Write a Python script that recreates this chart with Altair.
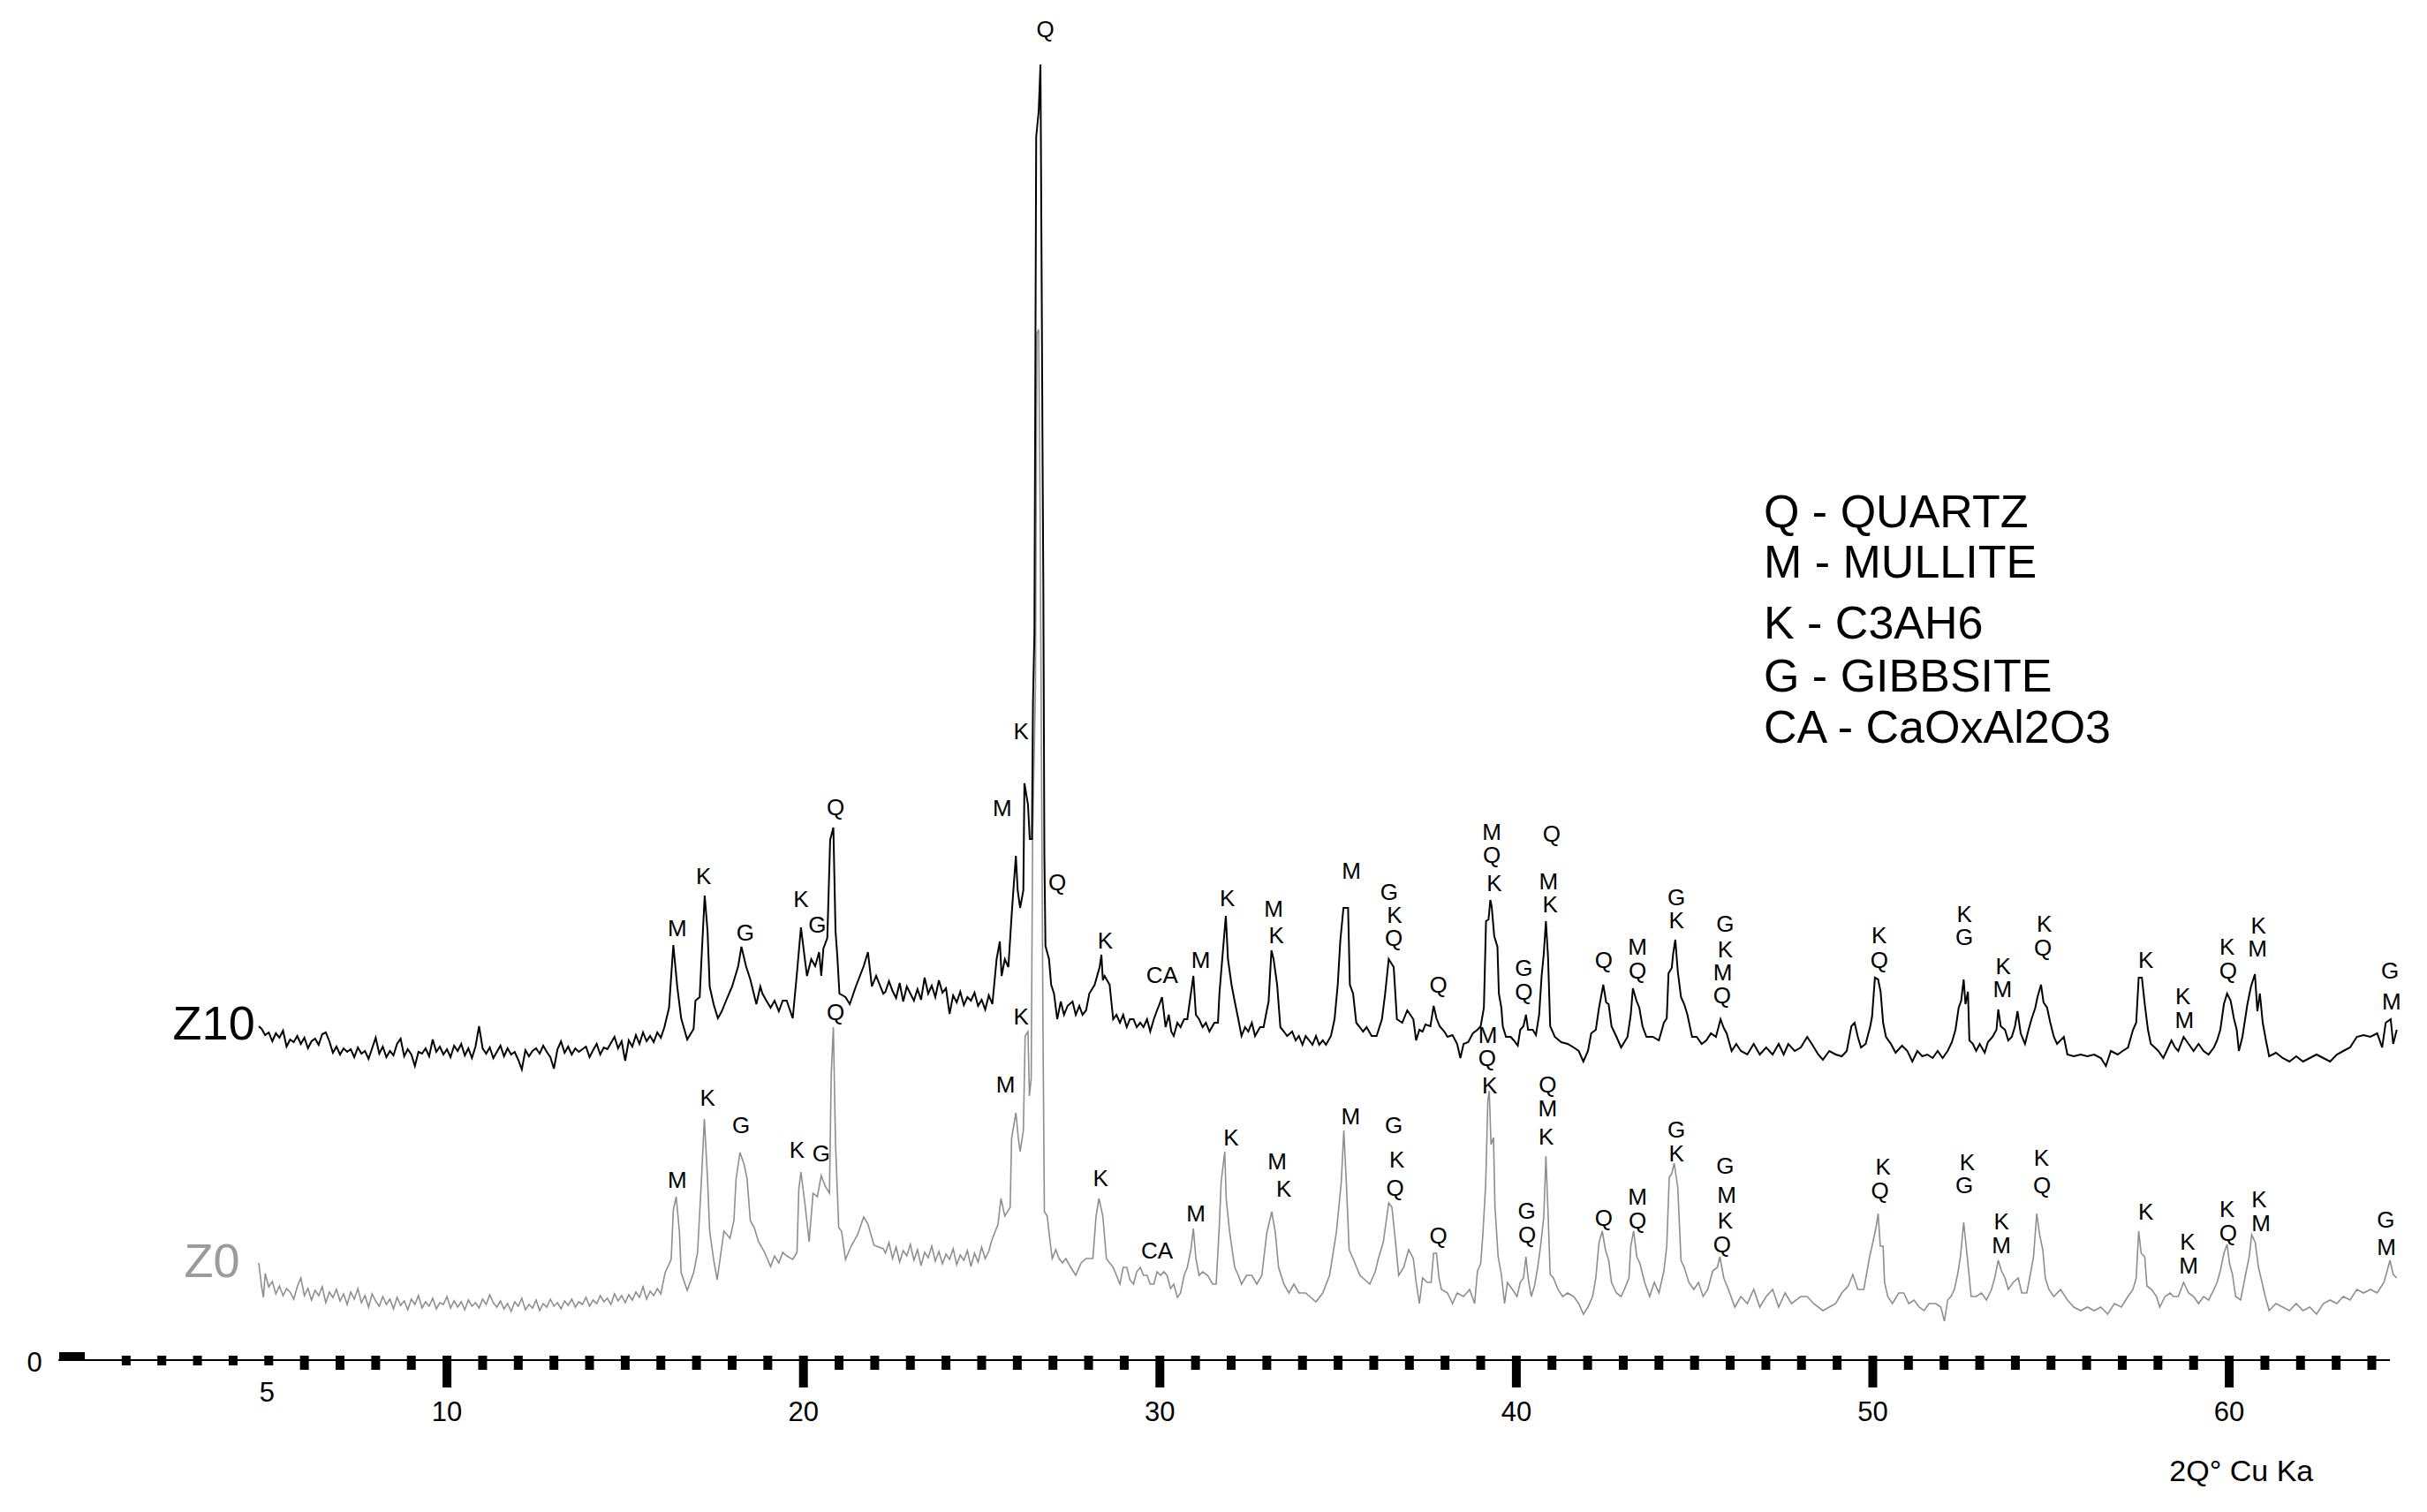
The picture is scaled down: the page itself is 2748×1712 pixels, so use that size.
import altair as alt
import pandas as pd

# ---------------- data (2-theta in degrees, intensity in plot units) ----------------
z10_points = [
    (4.72, 375), (4.8, 372), (4.9, 365), (5.0, 368), (5.1, 358), (5.2, 367), (5.3, 362), (5.4, 370),
    (5.5, 352), (5.6, 360), (5.7, 357), (5.8, 364), (5.9, 355), (6.0, 362), (6.1, 350), (6.2, 358),
    (6.3, 361), (6.4, 354), (6.5, 366), (6.6, 368), (6.7, 358), (6.8, 345), (6.9, 352), (7.0, 343),
    (7.1, 350), (7.2, 346), (7.3, 349), (7.4, 340), (7.5, 351), (7.6, 344), (7.7, 347), (7.8, 338),
    (7.9, 350), (8.0, 362), (8.1, 344), (8.2, 352), (8.3, 340), (8.4, 347), (8.5, 342), (8.6, 355),
    (8.7, 361), (8.8, 341), (8.9, 349), (9.0, 343), (9.1, 330), (9.2, 346), (9.3, 344), (9.4, 350),
    (9.5, 341), (9.6, 360), (9.7, 346), (9.8, 352), (9.9, 343), (10.0, 349), (10.1, 340), (10.2, 353),
    (10.3, 347), (10.4, 355), (10.5, 342), (10.6, 350), (10.7, 339), (10.8, 352), (10.9, 375), (11.0, 350),
    (11.1, 344), (11.2, 351), (11.3, 339), (11.4, 346), (11.5, 353), (11.6, 341), (11.7, 350), (11.8, 343),
    (11.9, 346), (12.0, 337), (12.1, 326), (12.2, 348), (12.3, 341), (12.4, 347), (12.5, 350), (12.6, 344),
    (12.7, 353), (12.8, 346), (12.9, 340), (13.0, 327), (13.1, 349), (13.2, 358), (13.3, 345), (13.4, 352),
    (13.5, 343), (13.6, 350), (13.7, 346), (13.8, 349), (13.9, 352), (14.0, 340), (14.1, 348), (14.2, 355),
    (14.3, 343), (14.4, 351), (14.5, 349), (14.6, 356), (14.7, 363), (14.8, 350), (14.9, 358), (15.0, 336),
    (15.1, 359), (15.2, 352), (15.3, 365), (15.4, 355), (15.5, 368), (15.6, 358), (15.7, 364), (15.8, 357),
    (15.9, 368), (16.0, 362), (16.1, 374),
    (16.23, 396), (16.35, 467), (16.46, 420), (16.57, 384), (16.74, 360), (16.92, 372), (16.97, 404),
    (17.09, 408), (17.14, 451), (17.23, 523), (17.31, 483), (17.37, 420), (17.48, 400), (17.60, 384),
    (17.71, 392), (17.83, 404), (18.00, 420), (18.17, 443), (18.26, 465), (18.39, 443), (18.51, 428),
    (18.68, 400), (18.79, 420), (18.85, 412), (18.96, 404), (19.08, 396), (19.19, 404), (19.31, 392),
    (19.42, 404), (19.53, 404), (19.70, 384), (19.82, 436), (19.93, 487), (20.04, 451), (20.10, 432),
    (20.22, 451), (20.33, 443), (20.44, 459), (20.50, 432), (20.56, 463), (20.67, 475), (20.75, 586),
    (20.84, 600), (20.90, 483), (20.95, 455), (21.01, 412), (21.18, 408), (21.30, 400), (21.47, 420),
    (21.69, 443), (21.81, 459), (21.92, 420), (22.04, 432), (22.24, 412),
    (22.3, 414), (22.4, 426), (22.5, 415), (22.6, 407), (22.7, 424), (22.8, 403), (22.9, 420), (23.0, 412),
    (23.1, 404), (23.2, 417), (23.3, 405), (23.4, 430), (23.5, 412), (23.6, 421), (23.7, 408), (23.8, 427),
    (23.9, 413), (24.0, 418), (24.1, 389), (24.2, 410), (24.3, 402), (24.4, 414), (24.5, 399), (24.6, 408),
    (24.7, 404), (24.8, 413), (24.9, 398), (25.0, 405), (25.1, 394), (25.2, 410), (25.3, 400),
    (25.42, 451), (25.51, 471), (25.56, 432), (25.65, 451), (25.75, 442), (25.84, 500), (25.89, 529),
    (25.96, 568), (26.01, 529), (26.08, 509), (26.17, 529), (26.20, 650), (26.30, 626), (26.35, 587),
    (26.41, 587), (26.44, 742), (26.48, 820), (26.53, 1382), (26.60, 1411), (26.65, 1464), (26.68, 1246),
    (26.71, 1014), (26.73, 878), (26.76, 568), (26.79, 466), (26.89, 451), (26.95, 422), (27.03, 412),
    (27.12, 383), (27.22, 403), (27.31, 388), (27.41, 398), (27.55, 403), (27.64, 388), (27.74, 398),
    (27.83, 388), (27.93, 393), (28.02, 412), (28.17, 422), (28.31, 442), (28.36, 456), (28.40, 427),
    (28.45, 432), (28.59, 422), (28.69, 383), (28.78, 388), (28.88, 379), (28.97, 388), (29.07, 374),
    (29.16, 383), (29.26, 383), (29.35, 374), (29.45, 379), (29.54, 374), (29.64, 383), (29.73, 369),
    (29.83, 383), (29.92, 393), (29.97, 398), (30.06, 408), (30.16, 374), (30.25, 388), (30.32, 369),
    (30.39, 364), (30.49, 379), (30.58, 374), (30.68, 383), (30.77, 383), (30.87, 412), (30.94, 432),
    (31.01, 388), (31.10, 383), (31.20, 374), (31.29, 379), (31.39, 369), (31.53, 379), (31.63, 379),
    (31.67, 412), (31.77, 461), (31.85, 500), (31.91, 451), (32.01, 422), (32.10, 403), (32.20, 383),
    (32.29, 364), (32.39, 374), (32.48, 369), (32.58, 379), (32.67, 364), (32.81, 374), (32.91, 374),
    (33.00, 393), (33.05, 403), (33.13, 461), (33.19, 451), (33.29, 422), (33.38, 374), (33.48, 369),
    (33.57, 364), (33.71, 369), (33.81, 359), (33.90, 364), (34.00, 354), (34.09, 364), (34.19, 359),
    (34.28, 354), (34.38, 364), (34.47, 354), (34.57, 359), (34.66, 354), (34.80, 364), (34.90, 383),
    (34.99, 422), (35.06, 471), (35.15, 509), (35.28, 509), (35.33, 422), (35.42, 412), (35.51, 379),
    (35.61, 374), (35.70, 369), (35.80, 374), (35.94, 364), (36.08, 364), (36.23, 383), (36.32, 412),
    (36.42, 451), (36.56, 442), (36.65, 383), (36.80, 379), (36.94, 393), (37.11, 383),
    (37.19, 359), (37.28, 371), (37.37, 369), (37.45, 377), (37.59, 375), (37.68, 398), (37.76, 384),
    (37.85, 375), (37.98, 369), (38.07, 363), (38.21, 365), (38.34, 355), (38.43, 339), (38.52, 355),
    (38.65, 357), (38.78, 367), (38.91, 371), (39.00, 375), (39.09, 396), (39.15, 494), (39.22, 496),
    (39.27, 518), (39.31, 510), (39.38, 477), (39.47, 465), (39.51, 412), (39.58, 396), (39.62, 375),
    (39.71, 363), (39.84, 363), (39.93, 359), (40.04, 353), (40.11, 371), (40.20, 375), (40.27, 388),
    (40.33, 371), (40.46, 371), (40.55, 365), (40.64, 388), (40.71, 432), (40.77, 457), (40.83, 494),
    (40.89, 453), (40.95, 375), (41.08, 363), (41.26, 357), (41.44, 355), (41.61, 351), (41.75, 347),
    (41.88, 335), (42.01, 347), (42.10, 367), (42.23, 371), (42.32, 396), (42.44, 422), (42.52, 402),
    (42.59, 400), (42.67, 375), (42.81, 363), (42.94, 351), (43.12, 363), (43.21, 388), (43.27, 418),
    (43.37, 404), (43.45, 396), (43.54, 375), (43.65, 363), (43.83, 363), (44.00, 359), (44.14, 379),
    (44.22, 384), (44.27, 435), (44.36, 441), (44.40, 457), (44.46, 473), (44.53, 437), (44.62, 408),
    (44.71, 400), (44.80, 388), (44.93, 363), (45.06, 363), (45.20, 355), (45.33, 359), (45.46, 367),
    (45.60, 363), (45.73, 383), (45.82, 373), (45.90, 367), (46.04, 347), (46.17, 355), (46.30, 347),
    (46.48, 343), (46.66, 355), (46.83, 343), (47.01, 351), (47.19, 343), (47.36, 355), (47.50, 343),
    (47.63, 355), (47.81, 347), (47.98, 351), (48.16, 363), (48.29, 355), (48.47, 343), (48.60, 337),
    (48.78, 347), (48.96, 343), (49.13, 341), (49.27, 347), (49.40, 375), (49.49, 379), (49.58, 363),
    (49.67, 351), (49.80, 355), (49.93, 375), (49.98, 386), (50.06, 430), (50.15, 428), (50.22, 414),
    (50.29, 379), (50.37, 363), (50.51, 355), (50.64, 345),
    (50.82, 353), (50.97, 347), (51.11, 335), (51.25, 347), (51.39, 341), (51.53, 343), (51.68, 339),
    (51.82, 347), (51.96, 339), (52.10, 347), (52.22, 357), (52.32, 371), (52.41, 396), (52.48, 404),
    (52.55, 428), (52.60, 400), (52.67, 414), (52.71, 359), (52.81, 355), (52.90, 347), (53.00, 355),
    (53.14, 345), (53.23, 357), (53.36, 363), (53.47, 371), (53.52, 394), (53.59, 375), (53.71, 371),
    (53.80, 359), (53.90, 363), (53.99, 375), (54.06, 392), (54.15, 367), (54.27, 355), (54.37, 371),
    (54.46, 384), (54.56, 396), (54.62, 408), (54.72, 422), (54.79, 402), (54.89, 396), (54.98, 379),
    (55.08, 363), (55.17, 355), (55.36, 363), (55.46, 343), (55.64, 341), (55.83, 343), (56.02, 341),
    (56.21, 343), (56.40, 339), (56.54, 330), (56.68, 347), (56.87, 343), (57.01, 347), (57.16, 351),
    (57.30, 371), (57.39, 379), (57.46, 430), (57.55, 430), (57.63, 400), (57.72, 371), (57.80, 355),
    (57.91, 351), (58.01, 347), (58.15, 339), (58.29, 351), (58.38, 359), (58.48, 351), (58.57, 347),
    (58.72, 363), (58.86, 355), (59.00, 347), (59.14, 355), (59.28, 347), (59.42, 343), (59.57, 351),
    (59.66, 359), (59.75, 371), (59.85, 400), (59.94, 412), (60.04, 404), (60.13, 384), (60.21, 371),
    (60.27, 347), (60.37, 363), (60.51, 400), (60.61, 420), (60.72, 434), (60.79, 392), (60.86, 412),
    (60.94, 379), (61.03, 359), (61.12, 341), (61.31, 345), (61.50, 339), (61.69, 335), (61.88, 341),
    (62.07, 335), (62.26, 339), (62.45, 343), (62.64, 339), (62.83, 335), (63.02, 343), (63.20, 347),
    (63.39, 351), (63.58, 363), (63.77, 365), (63.96, 363), (64.15, 367), (64.29, 351), (64.39, 379),
    (64.53, 383), (64.60, 355), (64.70, 371),
]

z0_points = [
    (4.72, 107), (4.8, 80), (4.85, 68), (4.9, 95), (5.0, 80), (5.1, 86), (5.2, 72), (5.3, 81), (5.4, 70),
    (5.5, 78), (5.6, 74), (5.7, 66), (5.8, 80), (5.9, 90), (6.0, 70), (6.1, 78), (6.2, 65), (6.3, 76),
    (6.4, 70), (6.5, 80), (6.6, 62), (6.7, 74), (6.8, 68), (6.9, 77), (7.0, 64), (7.1, 72), (7.2, 60),
    (7.3, 74), (7.4, 66), (7.5, 78), (7.6, 62), (7.7, 70), (7.8, 57), (7.9, 72), (8.0, 64), (8.1, 58),
    (8.2, 69), (8.3, 60), (8.4, 66), (8.5, 55), (8.6, 68), (8.7, 59), (8.8, 64), (8.9, 54), (9.0, 66),
    (9.1, 60), (9.2, 70), (9.3, 56), (9.4, 63), (9.5, 58), (9.6, 67), (9.7, 55), (9.8, 62), (9.9, 60),
    (10.0, 69), (10.1, 56), (10.2, 64), (10.3, 57), (10.4, 63), (10.5, 54), (10.6, 65), (10.7, 58),
    (10.8, 62), (10.9, 56), (11.0, 66), (11.1, 60), (11.2, 71), (11.3, 62), (11.4, 57), (11.5, 64),
    (11.6, 55), (11.7, 61), (11.8, 52), (11.9, 63), (12.0, 58), (12.1, 67), (12.2, 54), (12.3, 60),
    (12.4, 56), (12.5, 65), (12.6, 53), (12.7, 61), (12.8, 57), (12.9, 66), (13.0, 58), (13.1, 62),
    (13.2, 55), (13.3, 64), (13.4, 59), (13.5, 66), (13.6, 57), (13.7, 63), (13.8, 60), (13.9, 68),
    (14.0, 58), (14.1, 65), (14.2, 61), (14.3, 70), (14.4, 63), (14.5, 67), (14.6, 60), (14.7, 72),
    (14.8, 64), (14.9, 70), (15.0, 62), (15.1, 71), (15.2, 65), (15.3, 74), (15.4, 68), (15.5, 80),
    (15.6, 66), (15.7, 75), (15.8, 70), (15.9, 78), (16.0, 72),
    (16.12, 96), (16.29, 111), (16.35, 167), (16.43, 182), (16.52, 143), (16.57, 96), (16.74, 76),
    (16.92, 96), (17.03, 119), (17.14, 202), (17.22, 270), (17.31, 202), (17.37, 143), (17.48, 111),
    (17.58, 88), (17.66, 111), (17.77, 143), (17.94, 135), (18.05, 155), (18.11, 202), (18.22, 232),
    (18.34, 218), (18.42, 202), (18.51, 155), (18.62, 147), (18.74, 131), (18.91, 119), (19.08, 103),
    (19.19, 115), (19.31, 107), (19.42, 119), (19.53, 115), (19.70, 111), (19.82, 119), (19.87, 190),
    (19.93, 210), (20.04, 175), (20.16, 131), (20.27, 186), (20.39, 182), (20.50, 206), (20.61, 194),
    (20.73, 186), (20.78, 321), (20.84, 374), (20.90, 242), (20.99, 147), (21.07, 143), (21.18, 111),
    (21.35, 127), (21.52, 139), (21.69, 159), (21.81, 151), (21.98, 127), (22.24, 123),
    (22.3, 118), (22.4, 130), (22.5, 112), (22.6, 125), (22.7, 108), (22.8, 121), (22.9, 115), (23.0, 128),
    (23.1, 110), (23.2, 122), (23.3, 104), (23.4, 119), (23.5, 113), (23.6, 126), (23.7, 109), (23.8, 120),
    (23.9, 106), (24.0, 117), (24.1, 111), (24.2, 123), (24.3, 105), (24.4, 116), (24.5, 110), (24.6, 121),
    (24.7, 103), (24.8, 118), (24.9, 108), (25.0, 125), (25.1, 112), (25.2, 120),
    (25.27, 131), (25.46, 151), (25.54, 180), (25.65, 160), (25.80, 170), (25.84, 248), (25.96, 277),
    (26.03, 248), (26.08, 233), (26.17, 257), (26.22, 364), (26.30, 369), (26.34, 296), (26.39, 316),
    (26.43, 587), (26.51, 761), (26.55, 1159), (26.60, 1164), (26.64, 955), (26.68, 665), (26.72, 374),
    (26.76, 165), (26.84, 160), (26.89, 141), (26.98, 112), (27.08, 122), (27.17, 112), (27.27, 107),
    (27.36, 112), (27.50, 102), (27.64, 93), (27.79, 107), (27.93, 112), (28.12, 112), (28.21, 160),
    (28.29, 180), (28.40, 160), (28.50, 112), (28.59, 107), (28.69, 102), (28.78, 93), (28.88, 83),
    (28.97, 102), (29.07, 102), (29.16, 88), (29.26, 83), (29.35, 97), (29.45, 102), (29.54, 93),
    (29.64, 93), (29.73, 83), (29.83, 83), (29.92, 97), (30.02, 93), (30.11, 97), (30.20, 93),
    (30.30, 78), (30.39, 83), (30.49, 68), (30.58, 73), (30.68, 93), (30.77, 102), (30.87, 122),
    (30.94, 146), (31.01, 112), (31.10, 93), (31.20, 97), (31.34, 93), (31.48, 83), (31.58, 83),
    (31.67, 151), (31.72, 199), (31.82, 233), (31.86, 180), (31.96, 141), (32.10, 102), (32.20, 93),
    (32.29, 83), (32.43, 93), (32.58, 93), (32.72, 83), (32.86, 93), (33.00, 141), (33.14, 165),
    (33.24, 141), (33.33, 102), (33.48, 83), (33.62, 73), (33.76, 83), (33.90, 73), (34.09, 73),
    (34.23, 68), (34.38, 63), (34.57, 73), (34.76, 93), (34.95, 141), (35.09, 199), (35.16, 257),
    (35.23, 199), (35.31, 122), (35.42, 112), (35.61, 93), (35.75, 88), (35.89, 83), (36.04, 97),
    (36.13, 112), (36.27, 131), (36.42, 175), (36.51, 170), (36.61, 131), (36.70, 93), (36.84, 102),
    (36.98, 122), (37.11, 112),
    (37.19, 85), (37.28, 61), (37.37, 90), (37.50, 85), (37.61, 85), (37.68, 118), (37.76, 118),
    (37.83, 90), (37.90, 77), (38.07, 73), (38.21, 61), (38.34, 73), (38.52, 69), (38.69, 77),
    (38.83, 61), (38.91, 98), (39.00, 106), (39.06, 139), (39.14, 196), (39.20, 290), (39.24, 302),
    (39.29, 241), (39.36, 249), (39.40, 171), (39.49, 114), (39.58, 94), (39.67, 61), (39.75, 85),
    (39.89, 77), (40.02, 69), (40.11, 85), (40.20, 90), (40.27, 114), (40.33, 90), (40.42, 69),
    (40.51, 81), (40.60, 102), (40.68, 126), (40.77, 159), (40.83, 228), (40.89, 163), (40.95, 94),
    (41.04, 90), (41.17, 77), (41.30, 69), (41.44, 73), (41.61, 69), (41.75, 61), (41.88, 49),
    (42.01, 57), (42.14, 69), (42.23, 90), (42.32, 130), (42.41, 143), (42.50, 122), (42.59, 110),
    (42.67, 85), (42.81, 73), (42.94, 69), (43.03, 77), (43.16, 90), (43.21, 126), (43.29, 143),
    (43.38, 114), (43.47, 106), (43.60, 85), (43.74, 69), (43.87, 85), (44.00, 73), (44.14, 98),
    (44.22, 126), (44.29, 204), (44.36, 208), (44.43, 220), (44.53, 192), (44.62, 110), (44.71, 102),
    (44.84, 85), (44.98, 77), (45.11, 85), (45.24, 69), (45.37, 77), (45.51, 98), (45.64, 102),
    (45.71, 114), (45.82, 90), (45.95, 77), (46.13, 57), (46.30, 69), (46.48, 61), (46.66, 77),
    (46.83, 57), (47.01, 69), (47.19, 77), (47.36, 57), (47.54, 73), (47.72, 61), (47.98, 69),
    (48.16, 69), (48.34, 61), (48.60, 53), (48.78, 57), (48.96, 61), (49.13, 73), (49.31, 81),
    (49.44, 94), (49.58, 77), (49.75, 77), (49.91, 114), (50.00, 130), (50.09, 147), (50.15, 163),
    (50.21, 126), (50.29, 126), (50.33, 85), (50.42, 69), (50.55, 61), (50.73, 73),
    (50.87, 73), (51.01, 61), (51.16, 65), (51.30, 57), (51.44, 53), (51.58, 61), (51.77, 61),
    (51.91, 57), (52.01, 41), (52.10, 65), (52.19, 69), (52.29, 77), (52.38, 94), (52.46, 114),
    (52.55, 153), (52.62, 126), (52.69, 98), (52.76, 69), (52.90, 69), (53.05, 73), (53.19, 65),
    (53.33, 77), (53.42, 90), (53.52, 110), (53.61, 98), (53.71, 90), (53.80, 77), (53.94, 85),
    (54.08, 90), (54.18, 73), (54.32, 73), (54.42, 94), (54.51, 114), (54.60, 163), (54.68, 139),
    (54.77, 122), (54.84, 90), (54.94, 77), (55.08, 69), (55.27, 77), (55.46, 65), (55.64, 57),
    (55.83, 53), (56.02, 57), (56.21, 53), (56.40, 57), (56.59, 49), (56.78, 61), (56.97, 57),
    (57.16, 69), (57.30, 77), (57.39, 90), (57.46, 143), (57.53, 118), (57.63, 114), (57.69, 81),
    (57.82, 77), (57.96, 69), (58.05, 57), (58.20, 69), (58.34, 73), (58.43, 69), (58.57, 69),
    (58.72, 85), (58.86, 73), (59.00, 69), (59.14, 61), (59.28, 69), (59.42, 65), (59.57, 77),
    (59.66, 85), (59.75, 98), (59.85, 118), (59.94, 128), (60.01, 106), (60.09, 94), (60.18, 69),
    (60.32, 65), (60.46, 94), (60.56, 114), (60.63, 139), (60.73, 130), (60.82, 102), (60.92, 85),
    (61.01, 69), (61.12, 53), (61.31, 61), (61.50, 57), (61.69, 53), (61.88, 61), (62.07, 53),
    (62.26, 57), (62.45, 49), (62.64, 61), (62.83, 65), (63.02, 61), (63.20, 69), (63.39, 65),
    (63.58, 77), (63.77, 73), (63.96, 77), (64.15, 73), (64.34, 85), (64.43, 98), (64.51, 110),
    (64.60, 94), (64.70, 90),
]

# peak labels: (2-theta, height, phase letter)
z10_labels = [
    (16.46, 485, "M"), (17.2, 544, "K"), (18.37, 480, "G"), (19.93, 518, "K"), (20.39, 489, "G"),
    (20.9, 622, "Q"), (25.58, 621, "M"), (26.11, 708, "K"), (26.79, 1503, "Q"), (27.12, 537, "Q"),
    (28.47, 471, "K"), (30.06, 432, "CA"), (31.15, 449, "M"), (31.89, 519, "K"), (33.19, 507, "M"),
    (33.27, 477, "K"), (35.37, 550, "M"), (36.43, 526, "G"), (36.58, 500, "K"), (36.56, 474, "Q"),
    (37.81, 421, "Q"), (39.31, 594, "M"), (39.31, 568, "Q"), (39.38, 536, "K"), (40.21, 440, "G"),
    (40.21, 413, "Q"), (40.99, 592, "Q"), (40.9, 538, "M"), (40.95, 512, "K"), (42.45, 449, "Q"),
    (43.40, 464, "M"), (43.40, 437, "Q"), (44.49, 520, "G"), (44.49, 494, "K"), (45.86, 490, "G"),
    (45.86, 461, "K"), (45.79, 435, "M"), (45.77, 409, "Q"), (50.18, 477, "K"), (50.18, 449, "Q"),
    (52.57, 501, "K"), (52.57, 475, "G"), (53.66, 442, "K"), (53.64, 416, "M"), (54.81, 490, "K"),
    (54.77, 463, "Q"), (57.66, 449, "K"), (58.70, 408, "K"), (58.74, 381, "M"), (59.94, 464, "K"),
    (59.97, 437, "Q"), (60.82, 488, "K"), (60.79, 462, "M"), (64.51, 437, "G"), (64.55, 402, "M"),
]
z0_labels = [
    (16.46, 200, "M"), (17.31, 293, "K"), (18.25, 262, "G"), (19.82, 234, "K"), (20.5, 230, "G"),
    (20.9, 390, "Q"), (25.67, 308, "M"), (26.11, 385, "K"), (28.34, 202, "K"), (29.92, 120, "CA"),
    (31.01, 162, "M"), (32.0, 248, "K"), (33.29, 221, "M"), (33.48, 190, "K"), (35.35, 272, "M"),
    (36.56, 262, "G"), (36.65, 223, "K"), (36.6, 191, "Q"), (37.81, 137, "Q"), (39.2, 364, "M"),
    (39.18, 338, "Q"), (39.25, 307, "K"), (40.29, 165, "G"), (40.3, 138, "Q"), (40.88, 308, "Q"),
    (40.88, 281, "M"), (40.84, 249, "K"), (42.45, 157, "Q"), (43.40, 181, "M"), (43.40, 154, "Q"),
    (44.49, 257, "G"), (44.49, 230, "K"), (45.86, 216, "G"), (45.9, 183, "M"), (45.86, 154, "K"),
    (45.77, 127, "Q"), (50.29, 215, "K"), (50.2, 188, "Q"), (52.65, 220, "K"), (52.57, 194, "G"),
    (53.61, 153, "K"), (53.61, 126, "M"), (54.73, 225, "K"), (54.75, 194, "Q"), (57.66, 164, "K"),
    (58.83, 130, "K"), (58.86, 103, "M"), (59.94, 167, "K"), (59.97, 140, "Q"), (60.84, 178, "K"),
    (60.89, 151, "M"), (64.39, 155, "G"), (64.41, 124, "M"),
]

legend_lines = ["Q - QUARTZ", "M - MULLITE", "K - C3AH6", "G - GIBBSITE", "CA - CaOxAl2O3"]
legend_heights = [956, 899, 830, 770, 712]

series_names = ["Z10", "Z0"]
series_label_pos = [(3.46, 376), (3.41, 107)]

small_ticks = [1, 2, 3, 4, 5]
medium_ticks = [t for t in range(6, 65) if t % 10 != 0]
major_ticks = [10, 20, 30, 40, 50, 60]
tick_labels = ["5", "10", "20", "30", "40", "50", "60"]
tick_label_pos = [(4.95, -41), (10, -63), (20, -63), (30, -63), (40, -63), (50, -63), (60, -63)]
axis_title = "2Q° Cu Ka"

# ---------------- geometry ----------------
W, H = 2732, 1696
XS = alt.Scale(domain=[-2.3414, 65.350], nice=False, zero=False)
YS = alt.Scale(domain=[-167, 1529], nice=False, zero=False)
FONT = "Liberation Sans, Arial, Helvetica, sans-serif"


def X(field="x"):
    return alt.X(f"{field}:Q", scale=XS, axis=None)


def Y(field="y"):
    return alt.Y(f"{field}:Q", scale=YS, axis=None)


z10_df = pd.DataFrame(z10_points, columns=["x", "y"])
z0_df = pd.DataFrame(z0_points, columns=["x", "y"])

z0_line = alt.Chart(z0_df).mark_line(color="#8e8e8e", strokeWidth=1.6).encode(x=X(), y=Y())
z10_line = alt.Chart(z10_df).mark_line(color="#000000", strokeWidth=2).encode(x=X(), y=Y())

lab_df = pd.DataFrame(z10_labels + z0_labels, columns=["x", "y", "t"])
peak_text = alt.Chart(lab_df).mark_text(
    font=FONT, fontSize=26, color="#000000", align="center", baseline="middle"
).encode(x=X(), y=Y(), text="t:N")

leg_df = pd.DataFrame({"x": [46.94] * len(legend_lines), "y": legend_heights, "t": legend_lines})
legend_text = alt.Chart(leg_df).mark_text(
    font=FONT, fontSize=52, color="#000000", align="left", baseline="middle"
).encode(x=X(), y=Y(), text="t:N")

ser_df = pd.DataFrame({
    "x": [p[0] for p in series_label_pos],
    "y": [p[1] for p in series_label_pos],
    "t": series_names,
    "c": ["#000000", "#9b9b9b"],
})
series_text = alt.Chart(ser_df).mark_text(
    font=FONT, fontSize=54, align="center", baseline="middle"
).encode(x=X(), y=Y(), text="t:N", color=alt.Color("c:N", scale=None))

# axis line and the small block at its start
axis_df = pd.DataFrame({"x": [-0.9], "x2": [64.51], "y": [-3]})
axis_line = alt.Chart(axis_df).mark_rule(color="#000000", strokeWidth=2).encode(
    x=X(), x2="x2:Q", y=Y()
)
block_df = pd.DataFrame({"x": [-0.88], "x2": [-0.16], "y": [6], "y2": [-4]})
block = alt.Chart(block_df).mark_rect(color="#000000").encode(x=X(), x2="x2:Q", y=Y(), y2="y2:Q")

tick_rows = (
    [{"x": t, "y": 2, "y2": -9} for t in small_ticks]
    + [{"x": t, "y": 2, "y2": -14} for t in medium_ticks]
    + [{"x": t, "y": 2, "y2": -34} for t in major_ticks]
)
ticks = alt.Chart(pd.DataFrame(tick_rows)).mark_rule(color="#000000", strokeWidth=10).encode(
    x=X(), y=Y(), y2="y2:Q"
)

tl_df = pd.DataFrame({
    "x": [p[0] for p in tick_label_pos] + [-1.57, 60.34],
    "y": [p[1] for p in tick_label_pos] + [-7, -130],
    "t": tick_labels + ["0", axis_title],
    "s": [31] * len(tick_labels) + [31, 34],
})
tick_text = alt.Chart(tl_df).mark_text(
    font=FONT, color="#000000", align="center", baseline="middle"
).encode(x=X(), y=Y(), text="t:N", size=alt.Size("s:Q", scale=None))

chart = alt.layer(
    z0_line, z10_line, axis_line, block, ticks, tick_text, peak_text, legend_text, series_text
).properties(
    width=W, height=H, padding=0, autosize=alt.AutoSizeParams(type="none")
).configure_view(strokeWidth=0)

chart.save("out.html", embed_options={"renderer": "svg", "actions": False})
